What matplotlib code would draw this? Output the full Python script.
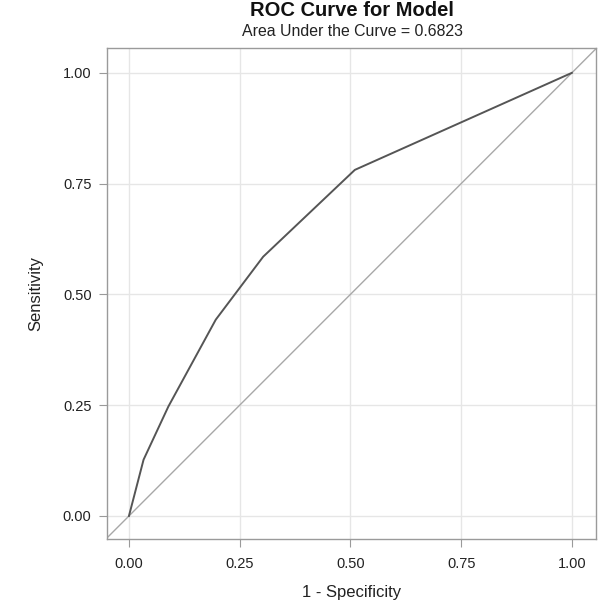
import matplotlib.pyplot as plt
import numpy as np

# ROC points
fpr = [0.0, 0.033, 0.089, 0.196, 0.303, 0.510, 1.0]
tpr = [0.0, 0.127, 0.247, 0.443, 0.585, 0.781, 1.0]
ticks = [0.0, 0.25, 0.5, 0.75, 1.0]
auc = 0.6823

plt.rcParams.update({'font.family': ['Liberation Sans', 'DejaVu Sans'], 'font.size': 10})

fig = plt.figure(figsize=(6.0, 6.04), dpi=100)
ax = fig.add_axes([0.178, 0.1076, 0.815, 0.8129])

ax.plot([-0.1, 1.1], [-0.1, 1.1], color='#a8a8a8', linewidth=1.0, zorder=2)
ax.plot(fpr, tpr, color='#555555', linewidth=1.4, zorder=3)

ax.set_xlim(-0.05, 1.054)
ax.set_ylim(-0.052, 1.056)
ax.set_xticks(ticks)
ax.set_yticks(ticks)
ax.set_xticklabels([f'{t:.2f}' for t in ticks])
ax.set_yticklabels([f'{t:.2f}' for t in ticks])
ax.grid(True, color='#e6e6e6', linewidth=1.0, zorder=0)
ax.set_axisbelow(True)
for s in ax.spines.values():
    s.set_color('#9a9a9a')
    s.set_linewidth(1.0)
ax.tick_params(colors='#9a9a9a', labelcolor='#222222', length=6, labelsize=10.5)
ax.tick_params(axis='x', pad=7)
ax.tick_params(axis='y', pad=5)

ax.set_xlabel('1 - Specificity', fontsize=12, color='#222222', labelpad=10)
ax.set_ylabel('Sensitivity', fontsize=12, color='#222222', labelpad=14)

fig.text(0.587, 0.982, 'ROC Curve for Model', ha='center', va='center',
         fontsize=14.5, fontweight='bold', color='#111111')
fig.text(0.587, 0.948, f'Area Under the Curve = {auc:.4f}', ha='center', va='center',
         fontsize=11.4, color='#222222')

fig.savefig('out.png', dpi=100)
